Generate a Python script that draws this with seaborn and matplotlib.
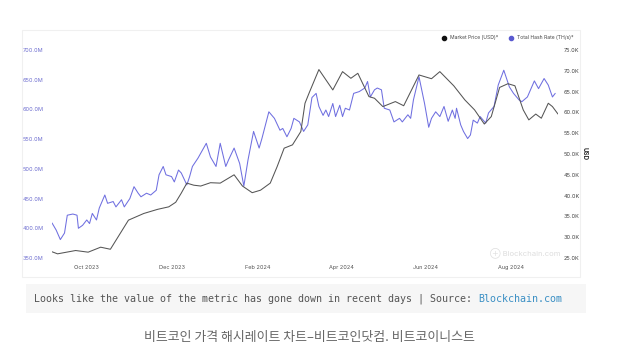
import pandas as pd
import numpy as np
import matplotlib
matplotlib.use("Agg")
import matplotlib.pyplot as plt
import matplotlib.dates as mdates
from matplotlib.lines import Line2D
from matplotlib.patches import Rectangle
import seaborn as sns

# market price (USD, thousands)
price_dates = ["2023-09-06", "2023-09-10", "2023-09-23", "2023-10-02", "2023-10-11", "2023-10-18",
               "2023-10-31", "2023-11-11", "2023-11-21", "2023-11-29", "2023-12-04", "2023-12-08",
               "2023-12-12", "2023-12-17", "2023-12-22", "2023-12-29", "2024-01-05", "2024-01-15",
               "2024-01-21", "2024-01-28", "2024-02-03", "2024-02-10", "2024-02-15", "2024-02-20",
               "2024-02-26", "2024-03-03", "2024-03-06", "2024-03-09", "2024-03-16", "2024-03-26",
               "2024-04-02", "2024-04-08", "2024-04-13", "2024-04-21", "2024-04-25", "2024-05-01",
               "2024-05-10", "2024-05-16", "2024-05-27", "2024-06-05", "2024-06-11", "2024-06-21",
               "2024-06-29", "2024-07-06", "2024-07-13", "2024-07-18", "2024-07-24", "2024-07-30",
               "2024-08-04", "2024-08-10", "2024-08-14", "2024-08-19", "2024-08-23", "2024-08-28",
               "2024-08-31", "2024-09-04"]
price_k = [26.5, 26.0, 26.8, 26.4, 27.6, 27.1,
           34.1, 35.7, 36.7, 37.3, 38.4, 40.6,
           43.0, 42.5, 42.3, 43.1, 43.0, 45.0,
           42.3, 40.7, 41.3, 43.0, 47.0, 51.4,
           52.2, 55.4, 62.2, 64.7, 70.3, 65.4,
           69.8, 68.2, 69.4, 63.8, 63.4, 61.4,
           62.6, 61.6, 69.0, 68.1, 69.8, 66.4,
           63.0, 60.6, 57.2, 59.0, 66.0, 66.9,
           66.4, 60.6, 58.2, 59.6, 58.6, 62.2,
           61.4, 59.6]

# total hash rate (TH/s, millions)
hash_dates = ["2023-09-06", "2023-09-09", "2023-09-12", "2023-09-15", "2023-09-17", "2023-09-21",
              "2023-09-24", "2023-09-25", "2023-09-28", "2023-10-01", "2023-10-03", "2023-10-05",
              "2023-10-08", "2023-10-10", "2023-10-14", "2023-10-16", "2023-10-20", "2023-10-22",
              "2023-10-26", "2023-10-28", "2023-11-01", "2023-11-04", "2023-11-07", "2023-11-09",
              "2023-11-13", "2023-11-16", "2023-11-20", "2023-11-22", "2023-11-25", "2023-11-27",
              "2023-12-01", "2023-12-03", "2023-12-06", "2023-12-08", "2023-12-12", "2023-12-14",
              "2023-12-16", "2023-12-20", "2023-12-26", "2023-12-29", "2024-01-02", "2024-01-05",
              "2024-01-09", "2024-01-11", "2024-01-15", "2024-01-19", "2024-01-22", "2024-01-25",
              "2024-01-29", "2024-02-02", "2024-02-04", "2024-02-09", "2024-02-13", "2024-02-17",
              "2024-02-19", "2024-02-22", "2024-02-25", "2024-02-27", "2024-03-02", "2024-03-05",
              "2024-03-08", "2024-03-11", "2024-03-14", "2024-03-16", "2024-03-19", "2024-03-21",
              "2024-03-23", "2024-03-26", "2024-03-28", "2024-03-31", "2024-04-02", "2024-04-04",
              "2024-04-07", "2024-04-10", "2024-04-14", "2024-04-18", "2024-04-20", "2024-04-22",
              "2024-04-25", "2024-04-27", "2024-04-30", "2024-05-02", "2024-05-06", "2024-05-09",
              "2024-05-13", "2024-05-15", "2024-05-19", "2024-05-21", "2024-05-23", "2024-05-27",
              "2024-05-31", "2024-06-03", "2024-06-05", "2024-06-08", "2024-06-11", "2024-06-14",
              "2024-06-17", "2024-06-20", "2024-06-22", "2024-06-23", "2024-06-26", "2024-06-28",
              "2024-07-01", "2024-07-03", "2024-07-05", "2024-07-08", "2024-07-10", "2024-07-14",
              "2024-07-16", "2024-07-20", "2024-07-23", "2024-07-27", "2024-07-31", "2024-08-03",
              "2024-08-07", "2024-08-09", "2024-08-13", "2024-08-18", "2024-08-21", "2024-08-25",
              "2024-08-28", "2024-08-31", "2024-09-02"]
hash_m = [409, 397, 381, 392, 422, 424,
          422, 400, 405, 414, 408, 425,
          414, 434, 456, 442, 445, 436,
          448, 436, 450, 470, 459, 453,
          459, 456, 464, 490, 504, 490,
          487, 478, 498, 493, 473, 487,
          504, 518, 543, 520, 504, 543,
          504, 515, 535, 509, 471, 515,
          563, 535, 551, 596, 585, 565,
          568, 554, 568, 585, 579, 563,
          574, 620, 627, 605, 590, 599,
          588, 610, 588, 607, 588, 602,
          599, 627, 630, 636, 647, 621,
          633, 636, 633, 602, 599, 579,
          585, 579, 591, 585, 616, 655,
          610, 570, 585, 596, 588, 605,
          580, 599, 585, 602, 574, 563,
          551, 557, 582, 577, 588, 577,
          594, 605, 641, 666, 638, 627,
          616, 613, 621, 648, 635, 652,
          641, 621, 627]

left_ticks = [350, 400, 450, 500, 550, 600, 650, 700]
right_ticks = [25, 30, 35, 40, 45, 50, 55, 60, 65, 70, 75]
month_ticks = ["2023-10-01", "2023-12-01", "2024-02-01", "2024-04-01", "2024-06-01", "2024-08-01"]

price_df = pd.DataFrame({"date": pd.to_datetime(price_dates), "price": price_k})
hash_df = pd.DataFrame({"date": pd.to_datetime(hash_dates), "hash": hash_m})

sns.set_style("white")
plt.rcParams["font.family"] = ["Inter", "DejaVu Sans"]

W, H = 633, 357
fig = plt.figure(figsize=(W / 100, H / 100), dpi=100)

# plot area in pixels: x 52..558, y 50..258
ax = fig.add_axes([52 / W, 1 - 258 / H, (558 - 52) / W, (258 - 50) / H])
ax2 = ax.twinx()

hash_col = "#6f6fe0"
price_col = "#555555"

sns.lineplot(data=hash_df, x="date", y="hash", ax=ax, color=hash_col, linewidth=0.75)
sns.lineplot(data=price_df, x="date", y="price", ax=ax2, color=price_col, linewidth=0.75)

ax.set_xlim(hash_df["date"].min(), pd.Timestamp("2024-09-04"))
ax.set_ylim(350, 700)
ax2.set_ylim(25, 75)

ax.set_yticks(left_ticks)
ax.set_yticklabels([f"{v:.1f}M" for v in left_ticks], color="#6f6fd0", fontsize=4)
ax2.set_yticks(right_ticks)
ax2.set_yticklabels([f"{v:.1f}K" for v in right_ticks], color="#444444", fontsize=4)
ax.set_xticks(pd.to_datetime(month_ticks))
ax.xaxis.set_major_formatter(mdates.DateFormatter("%b %Y"))
ax.tick_params(axis="x", labelsize=4, colors="#555555", length=0, pad=5)
ax.tick_params(axis="y", length=0, pad=6)
ax2.tick_params(axis="y", length=0, pad=4)

ax.set_xlabel("")
ax.set_ylabel("")
ax2.set_ylabel("USD", rotation=270, fontsize=4.5, fontweight="bold", color="#333333")
ax2.yaxis.set_label_coords(1.058, 0.5)
for a in (ax, ax2):
    for s in a.spines.values():
        s.set_visible(False)
    a.grid(False)

handles = [Line2D([], [], marker="o", linestyle="none", color="#111111", markersize=3),
           Line2D([], [], marker="o", linestyle="none", color="#5a5ad0", markersize=3)]
fig.legend(handles, ["Market Price (USD)*", "Total Hash Rate (TH/s)*"], loc="center",
           bbox_to_anchor=(506 / W, 1 - 38 / H), ncol=2, frameon=False, fontsize=3.6,
           handletextpad=0.2, columnspacing=1.5, labelcolor="#444444")

# watermark
fig.text(525 / W, 1 - 253 / H, "\u2295 Blockchain.com", ha="center", va="center",
         fontsize=5.5, color="#dddddd")

# faint chart container border
fig.add_artist(Rectangle((22 / W, 1 - 277 / H), (580 - 22) / W, (277 - 30) / H,
                         transform=fig.transFigure, fill=False, edgecolor="#f0f0f0", linewidth=0.8))

# note box under the chart
fig.add_artist(Rectangle((26 / W, 1 - 313 / H), (586 - 26) / W, (313 - 284) / H,
                         transform=fig.transFigure, facecolor="#f6f6f6", edgecolor="none"))
note = "Looks like the value of the metric has gone down in recent days | Source: "
t1 = fig.text(34 / W, 1 - 298.5 / H, note, ha="left", va="center", fontsize=7.2,
              family="DejaVu Sans Mono", color="#555555")
fig.canvas.draw()
bb = t1.get_window_extent()
fig.text(bb.x1 / W, 1 - 298.5 / H, "Blockchain.com", ha="left", va="center", fontsize=7.2,
         family="DejaVu Sans Mono", color="#3a8fc4")

fig.text(309 / W, 1 - 338 / H, "비트코인 가격 해시레이트 차트–비트코인닷컴. 비트코이니스트",
         ha="center", va="center", fontsize=9.3, style="italic", color="#666666",
         family=["Noto Sans CJK KR", "DejaVu Sans"])

fig.savefig("out.png", dpi=100)
